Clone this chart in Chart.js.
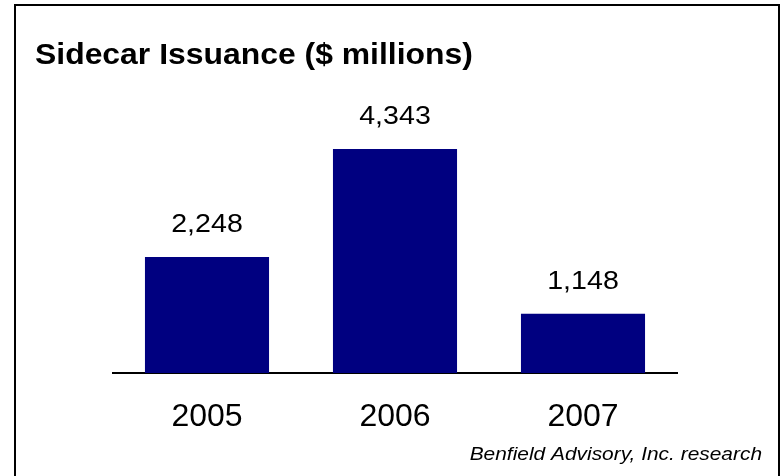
<!DOCTYPE html>
<html>
<head>
<meta charset="utf-8">
<script src="https://cdn.jsdelivr.net/npm/chart.js@4/dist/chart.umd.min.js"></script>
<style>
  html, body { margin: 0; padding: 0; background: #fff; }
  #chart { display: block; }
</style>
</head>
<body>
<canvas id="chart" width="783" height="476"></canvas>
<script>
// Dữ liệu phát hành sidecar
const years = ['2005', '2006', '2007'];
const issuance = [2248, 4343, 1148];
const chartTitle = 'Sidecar Issuance ($ millions)';
const sourceNote = 'Benfield Advisory, Inc. research';

const FONT = '"Liberation Sans", Arial, sans-serif';
const STRETCH = 1.1; // chữ hơi giãn ngang

// Vẽ chữ giãn ngang quanh điểm neo x
function wideText(ctx, text, x, y) {
  ctx.save();
  ctx.translate(x, y);
  ctx.scale(STRETCH, 1);
  ctx.fillText(text, 0, 0);
  ctx.restore();
}

// Khung, tiêu đề, nguồn và nhãn giá trị
const decorPlugin = {
  id: 'decor',
  beforeDraw(chart) {
    const ctx = chart.ctx;
    ctx.save();
    ctx.fillStyle = '#fff';
    ctx.fillRect(0, 0, chart.width, chart.height);
    ctx.strokeStyle = '#000';
    ctx.lineWidth = 2;
    ctx.strokeRect(15, 5, 764, 480);
    ctx.restore();
  },
  afterDatasetsDraw(chart) {
    const ctx = chart.ctx;
    ctx.save();
    ctx.fillStyle = '#000';
    ctx.textBaseline = 'alphabetic';

    ctx.font = 'bold 29px ' + FONT;
    ctx.textAlign = 'left';
    wideText(ctx, chartTitle, 35, 64);

    ctx.font = 'italic 19px ' + FONT;
    ctx.textAlign = 'right';
    wideText(ctx, sourceNote, 762, 460);

    ctx.font = '26px ' + FONT;
    ctx.textAlign = 'center';
    const meta = chart.getDatasetMeta(0);
    meta.data.forEach((bar, i) => {
      wideText(ctx, issuance[i].toLocaleString('en-US'), bar.x, bar.y - 25);
    });
    ctx.restore();
  }
};

new Chart(document.getElementById('chart'), {
  type: 'bar',
  data: {
    labels: years,
    datasets: [{
      data: issuance,
      backgroundColor: '#000080',
      borderWidth: 0,
      barPercentage: 0.66,
      categoryPercentage: 1
    }]
  },
  options: {
    responsive: false,
    animation: false,
    layout: { padding: { left: 113, right: 106, top: 115, bottom: 43 } },
    plugins: {
      legend: { display: false },
      tooltip: { enabled: false }
    },
    scales: {
      x: {
        grid: { display: false, drawTicks: false },
        border: { display: true, color: '#000', width: 2 },
        ticks: { color: '#000', font: { family: FONT, size: 32 }, padding: 25 },
        afterFit(scale) { scale.height = 60; }
      },
      y: {
        display: false,
        min: 0,
        max: 5000
      }
    }
  },
  plugins: [decorPlugin]
});
</script>
</body>
</html>
